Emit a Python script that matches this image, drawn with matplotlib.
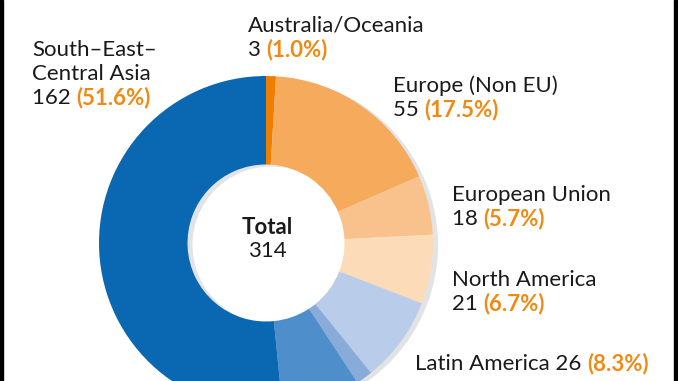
import matplotlib
matplotlib.use("Agg")
import matplotlib.pyplot as plt

# Data (clockwise from top)
categories = ["Australia/Oceania", "Europe (Non EU)", "European Union", "North America",
              "Latin America", "Other A", "Other B", "South-East-Central Asia"]
counts = [3, 55, 18, 21, 26, 5, 24, 162]
pct_labels = ["1.0%", "17.5%", "5.7%", "6.7%", "8.3%", "", "", "51.6%"]
total = 314
colors = ["#ef7d00", "#f5aa5c", "#f9c28c", "#fcdcb8", "#b9cce9", "#88abda", "#4e8fcb", "#0a67b2"]

W, H = 678, 381
fig = plt.figure(figsize=(W / 100, H / 100), dpi=100)
ax = fig.add_axes([0, 0, 1, 1])

cx, cy = 266, H - 243
R = 167
width = 0.53

# shadow
ax.pie([1], radius=R, center=(cx + 5, cy - 2), colors=["#e2e3e5"],
       wedgeprops=dict(width=R * width, linewidth=0), frame=True)
ax.pie(counts, radius=R, center=(cx, cy), colors=colors, startangle=90, counterclock=False,
       wedgeprops=dict(width=R * width, linewidth=0), frame=True)
ax.set_xlim(0, W)
ax.set_ylim(0, H)
ax.set_aspect("equal")
ax.axis("off")

font = "Lato"
fs = 16
dark = "#1a1a1a"
orange = "#f08a14"

def label(x, y, name_lines, idx):
    yy = y
    for ln in name_lines:
        ax.text(x, H - yy, ln, fontsize=fs, family=font, color=dark, va="center", ha="left")
        yy += 24
    t = ax.text(x, H - yy, f"{counts[idx]} ", fontsize=fs, family=font, color=dark, va="center", ha="left")
    ax.annotate(f"({pct_labels[idx]})", xycoords=t, xy=(1, 0), va="bottom", ha="left",
                fontsize=fs, family=font, color=orange, fontweight="bold")

label(32, 50, ["South\u2013East\u2013", "Central Asia"], 7)
label(248, 26, ["Australia/Oceania"], 0)
label(393, 86, ["Europe (Non EU)"], 1)
label(452, 195, ["European Union"], 2)
label(452, 280, ["North America"], 3)
t = ax.text(415, H - 364, f"{categories[4]} {counts[4]} ", fontsize=fs, family=font, color=dark,
            va="center", ha="left")
ax.annotate(f"({pct_labels[4]})", xycoords=t, xy=(1, 0), va="bottom", ha="left",
            fontsize=fs, family=font, color=orange, fontweight="bold")

ax.text(cx + 1, H - 228, "Total", fontsize=fs, family=font, fontweight="bold", color=dark,
        ha="center", va="center")
ax.text(cx + 1, H - 251, str(total), fontsize=fs, family=font, color=dark, ha="center", va="center")

# side borders
ax.axvspan(0, 2.5, color="black")
ax.axvspan(674, 678, color="black")

fig.savefig("out.png", dpi=100)
